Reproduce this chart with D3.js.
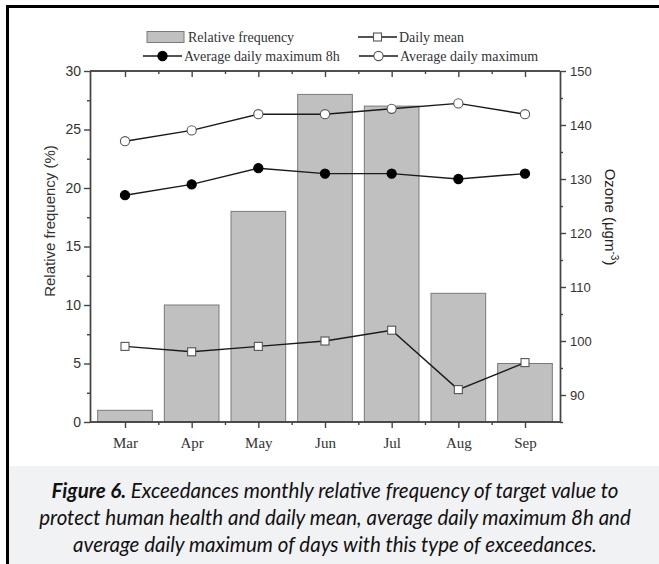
<!DOCTYPE html>
<html>
<head>
<meta charset="utf-8">
<script src="https://cdn.jsdelivr.net/npm/d3@7"></script>
<style>
  html, body { margin: 0; padding: 0; background: #fff; }
  svg { display: block; }
</style>
</head>
<body>
<svg id="chart" width="659" height="564"></svg>
<script>
// ── Data ──
const months = ['Mar', 'Apr', 'May', 'Jun', 'Jul', 'Aug', 'Sep'];
const relFreq = [1, 10, 18, 28, 27, 11, 5];          // % (left axis)
const dailyMean = [99, 98, 99, 100, 102, 91, 96];     // ozone µg/m3 (right axis)
const avgMax8h = [127, 129, 132, 131, 131, 130, 131];
const avgMax = [137, 139, 142, 142, 143, 144, 142];
const leftTicks = [0, 5, 10, 15, 20, 25, 30];
const rightTicks = [90, 100, 110, 120, 130, 140, 150];
const captionLines = [
  ['Figure 6.', ' Exceedances monthly relative frequency of target value to'],
  ['', 'protect human health and daily mean, average daily maximum 8h and'],
  ['', 'average daily maximum of days with this type of exceedances.']
];

const svg = d3.select('#chart');
const L = 90, R = 560, T = 71, B = 422;
const axisCol = '#444', lineCol = '#1a1a1a';

// ── Frame & caption band ──
svg.append('rect').attr('x', 8).attr('y', 466).attr('width', 651).attr('height', 98).attr('fill', '#f1f2f4');
svg.append('line').attr('x1', 6).attr('x2', 659).attr('y1', 6.5).attr('y2', 6.5).attr('stroke', '#000').attr('stroke-width', 3);
svg.append('line').attr('x1', 7.5).attr('x2', 7.5).attr('y1', 5).attr('y2', 564).attr('stroke', '#000').attr('stroke-width', 3);

// ── Scales ──
const x = d3.scaleBand().domain(months).range([L, R]).paddingInner(0.18).paddingOuter(0.115);
const cx = m => x(m) + x.bandwidth() / 2;
const xi = d3.scaleLinear().domain([0, months.length - 1]).range([cx(months[0]), cx(months[months.length - 1])]);
const yL = d3.scaleLinear().domain([0, 30]).range([B, T]);
const yR = d3.scaleLinear().domain([85, 150]).range([B, T]);

// ── Bars ──
svg.append('g').selectAll('rect').data(months).enter().append('rect')
  .attr('x', m => x(m)).attr('width', x.bandwidth())
  .attr('y', (m, i) => yL(relFreq[i])).attr('height', (m, i) => B - yL(relFreq[i]))
  .attr('fill', '#c0c0c0').attr('stroke', '#7a7a7a').attr('stroke-width', 1);

// ── Axes ──
function styleAxis(g) {
  g.select('.domain').attr('stroke', axisCol).attr('stroke-width', 1.4);
  g.selectAll('.tick line').attr('stroke', axisCol).attr('stroke-width', 1.4);
}
const minorX = d3.range(0.5, months.length - 1, 1);

// left
svg.append('g').attr('transform', `translate(${L},0)`)
  .call(d3.axisLeft(yL).tickValues(d3.range(2.5, 30, 5)).tickSize(3).tickFormat('').tickSizeOuter(0))
  .call(styleAxis);
svg.append('g').attr('transform', `translate(${L},0)`)
  .call(d3.axisLeft(yL).tickValues(leftTicks).tickSize(6).tickPadding(3).tickSizeOuter(0))
  .call(styleAxis)
  .call(g => g.selectAll('text').attr('font-family', 'Liberation Sans, Arial').attr('font-size', 14).attr('fill', '#333'));

// right
svg.append('g').attr('transform', `translate(${R},0)`)
  .call(d3.axisRight(yR).tickValues(d3.range(85, 150, 10)).tickSize(3).tickFormat('').tickSizeOuter(0))
  .call(styleAxis);
svg.append('g').attr('transform', `translate(${R},0)`)
  .call(d3.axisRight(yR).tickValues(rightTicks).tickSize(6).tickPadding(4).tickSizeOuter(0))
  .call(styleAxis)
  .call(g => g.selectAll('text').attr('font-family', 'Liberation Sans, Arial').attr('font-size', 13).attr('fill', '#333'));

// bottom
svg.append('g').attr('transform', `translate(0,${B})`)
  .call(d3.axisBottom(xi).tickValues(minorX).tickSize(3).tickFormat('').tickSizeOuter(0))
  .call(styleAxis)
  .call(g => g.select('.domain').attr('d', `M${L},0H${R}`));
svg.append('g').attr('transform', `translate(0,${B})`)
  .call(d3.axisBottom(xi).tickValues(d3.range(months.length)).tickFormat(i => months[i]).tickSize(6).tickPadding(9).tickSizeOuter(0))
  .call(styleAxis)
  .call(g => g.select('.domain').attr('d', `M${L},0H${R}`))
  .call(g => g.selectAll('text').attr('font-family', 'Liberation Serif, Times New Roman').attr('font-size', 15).attr('fill', '#333'));

// top (ticks inward)
svg.append('g').attr('transform', `translate(0,${T})`)
  .call(d3.axisBottom(xi).tickValues(minorX).tickSize(3).tickFormat('').tickSizeOuter(0))
  .call(styleAxis)
  .call(g => g.select('.domain').attr('d', `M${L},0H${R}`));
svg.append('g').attr('transform', `translate(0,${T})`)
  .call(d3.axisBottom(xi).tickValues(d3.range(months.length)).tickFormat('').tickSize(6).tickSizeOuter(0))
  .call(styleAxis)
  .call(g => g.select('.domain').attr('d', `M${L},0H${R}`));

// ── Axis titles ──
svg.append('text').text('Relative frequency (%)')
  .attr('transform', `translate(55,221) rotate(-90)`)
  .attr('text-anchor', 'middle').attr('font-family', 'Liberation Sans, Arial').attr('font-size', 15).attr('fill', '#333');
const oz = svg.append('text')
  .attr('transform', `translate(605,217) rotate(90)`)
  .attr('text-anchor', 'middle').attr('font-family', 'Liberation Sans, Arial').attr('font-size', 15).attr('fill', '#222');
oz.append('tspan').text('Ozone (μgm');
oz.append('tspan').text('-3').attr('font-size', 10).attr('dy', -6);
oz.append('tspan').text(')').attr('dy', 6);

// ── Lines ──
const series = [
  { vals: avgMax, marker: 'circle', fill: '#fff' },
  { vals: avgMax8h, marker: 'circle', fill: '#000' },
  { vals: dailyMean, marker: 'square', fill: '#fff' }
];
const line = d3.line().x((v, i) => xi(i)).y(v => yR(v));
series.forEach(s => {
  svg.append('path').attr('d', line(s.vals)).attr('fill', 'none').attr('stroke', lineCol).attr('stroke-width', 1.4);
  const g = svg.append('g');
  s.vals.forEach((v, i) => drawMarker(g, s.marker, s.fill, xi(i), yR(v)));
});

function drawMarker(g, type, fill, px, py) {
  if (type === 'circle') {
    g.append('circle').attr('cx', px).attr('cy', py).attr('r', 4.6)
      .attr('fill', fill).attr('stroke', fill === '#000' ? '#000' : '#555').attr('stroke-width', 1.1);
  } else {
    g.append('rect').attr('x', px - 4).attr('y', py - 4).attr('width', 8).attr('height', 8)
      .attr('fill', fill).attr('stroke', '#555').attr('stroke-width', 1.1);
  }
}

// ── Legend ──
const lg = svg.append('g').attr('font-family', 'Liberation Serif, Times New Roman').attr('font-size', 14).attr('fill', '#333');
lg.append('rect').attr('x', 147).attr('y', 31.5).attr('width', 37).attr('height', 11)
  .attr('fill', '#c0c0c0').attr('stroke', '#7a7a7a');
lg.append('text').text('Relative frequency').attr('x', 188).attr('y', 42);
[
  { x0: 358, y: 37, type: 'square', fill: '#fff', label: 'Daily mean' },
  { x0: 143, y: 56, type: 'circle', fill: '#000', label: 'Average daily maximum 8h' },
  { x0: 359, y: 56, type: 'circle', fill: '#fff', label: 'Average daily maximum' }
].forEach(d => {
  lg.append('line').attr('x1', d.x0).attr('x2', d.x0 + 39).attr('y1', d.y).attr('y2', d.y)
    .attr('stroke', lineCol).attr('stroke-width', 1.4);
  drawMarker(lg, d.type, d.fill, d.x0 + 19.5, d.y);
  lg.append('text').text(d.label).attr('x', d.x0 + 41).attr('y', d.y + 5);
});

// ── Caption ──
const cap = svg.append('g').attr('font-family', 'Lato, Open Sans, sans-serif').attr('font-size', 20.5)
  .attr('font-style', 'italic').attr('fill', '#111').attr('text-anchor', 'middle');
captionLines.forEach((ln, i) => {
  const t = cap.append('text').attr('x', 335).attr('y', 498 + i * 27);
  if (ln[0]) t.append('tspan').text(ln[0]).attr('font-weight', 'bold');
  t.append('tspan').text(ln[1]);
});
</script>
</body>
</html>
